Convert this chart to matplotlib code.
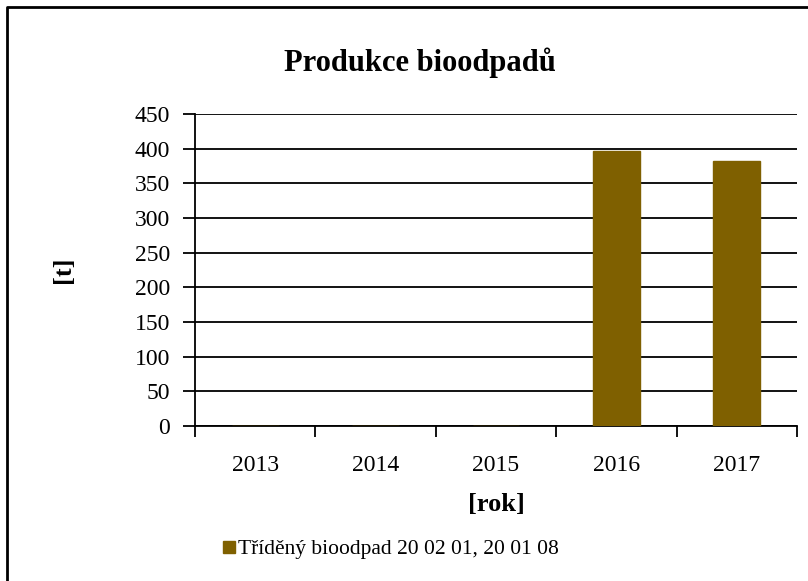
import matplotlib.pyplot as plt
from matplotlib.lines import Line2D
import numpy as np

years = ["2013", "2014", "2015", "2016", "2017"]
values = [0, 0, 0, 396, 382]
series_name = "Tříděný bioodpad 20 02 01, 20 01 08"
title = "Produkce bioodpadů"
bar_color = "#7F6000"

plt.rcParams["font.family"] = ["Liberation Serif", "DejaVu Serif"]

fig = plt.figure(figsize=(8.08, 5.81), dpi=100)
W, H = 808, 581
ax = fig.add_axes([195 / W, 1 - 426 / H, (797 - 195) / W, (426 - 114) / H])

x = np.arange(len(years))
ax.bar(x, values, width=0.39, color=bar_color, edgecolor=bar_color,
       zorder=3, label=series_name)

ax.set_xlim(-0.5, len(years) - 0.5)
ax.set_ylim(0, 450)
ax.set_yticks(np.arange(0, 451, 50))
ax.yaxis.grid(True, color="black", linewidth=1.3, zorder=0)
ax.set_axisbelow(True)

for side in ["top", "right"]:
    ax.spines[side].set_visible(False)
for side in ["left", "bottom"]:
    ax.spines[side].set_linewidth(1.3)
    ax.spines[side].set_color("black")

# major ticks at category boundaries, labels at centres
ax.set_xticks(np.arange(-0.5, len(years), 1.0))
ax.set_xticklabels([])
ax.set_xticks(x, minor=True)
ax.set_xticklabels(years, minor=True)
ax.tick_params(axis="x", which="minor", length=0, pad=21, labelsize=17)
ax.tick_params(axis="x", which="major", direction="out", length=8, width=1.3)
ax.tick_params(axis="y", direction="out", length=9, width=1.3, pad=9, labelsize=17)

fig.text(420 / W, 1 - 63 / H, title, fontsize=22, fontweight="bold",
         ha="center", va="center")
ax.set_xlabel("[rok]", fontsize=19, fontweight="bold", labelpad=12)
ax.set_ylabel("[t]", fontsize=19, fontweight="bold", labelpad=43)

handles = [Line2D([], [], marker="s", linestyle="none", markersize=8,
                  color=bar_color)]
fig.legend(handles, [series_name], loc="center", bbox_to_anchor=(391 / W, 1 - 549 / H),
           frameon=False, fontsize=15.5, handletextpad=0.1, handlelength=0.6)

# outer frame (top and left edges visible in the reference)
fig.add_artist(Line2D([7 / W, 7 / W, 1], [0, 1 - 7 / H, 1 - 7 / H],
                      transform=fig.transFigure, color="black", linewidth=2))

fig.savefig("out.png", dpi=100)
